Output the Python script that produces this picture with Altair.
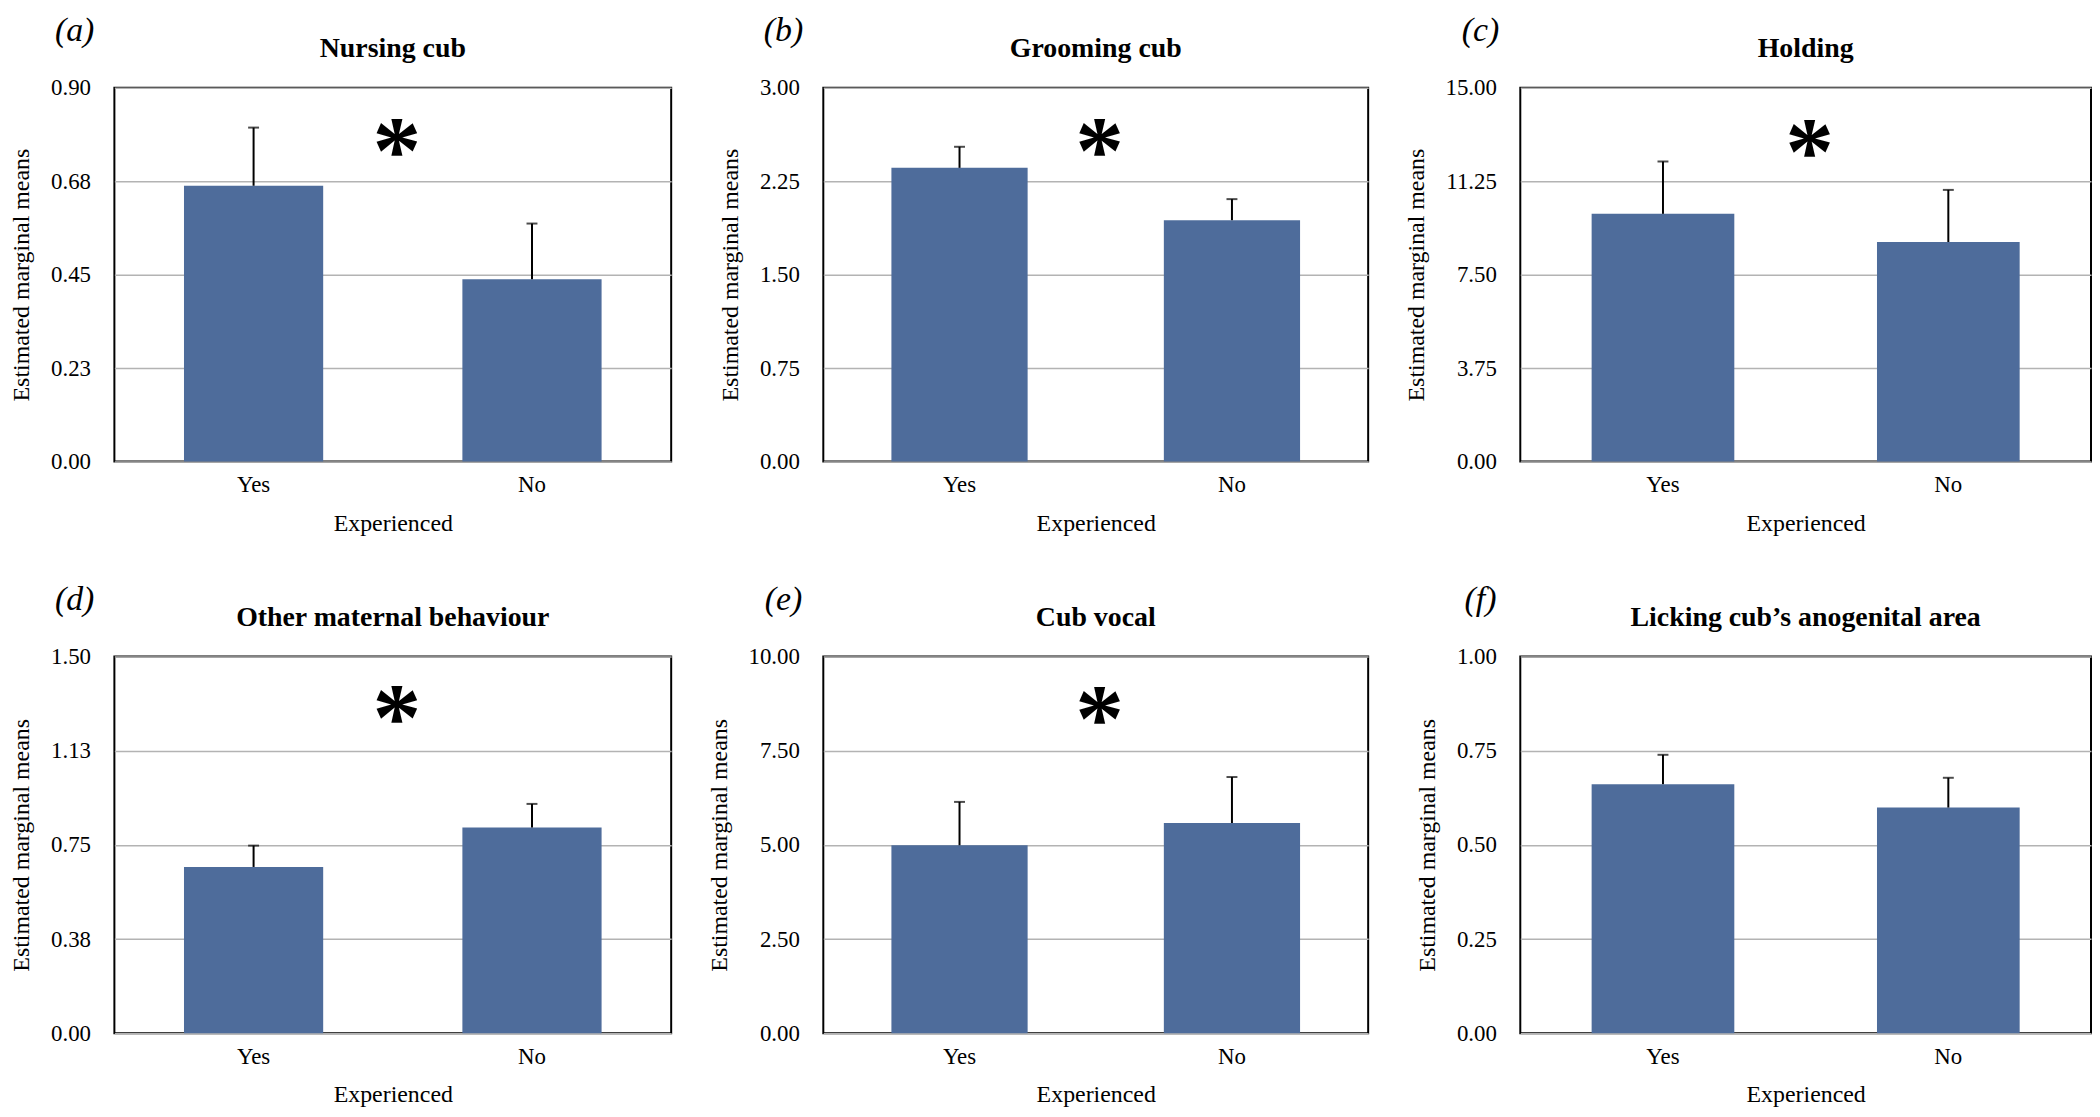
import altair as alt
import pandas as pd

letters = ["(a)", "(b)", "(c)", "(d)", "(e)", "(f)"]
titles = ["Nursing cub", "Grooming cub", "Holding",
          "Other maternal behaviour", "Cub vocal", "Licking cub\u2019s anogenital area"]
groups = ["Yes", "No"]
mean_yes = [0.664, 2.357, 9.94, 0.662, 4.99, 0.661]
mean_no = [0.439, 1.937, 8.81, 0.819, 5.58, 0.599]
upper_yes = [0.804, 2.526, 12.04, 0.747, 6.14, 0.739]
upper_no = [0.573, 2.106, 10.90, 0.913, 6.80, 0.678]
y_max = [0.9, 3.0, 15.0, 1.5, 10.0, 1.0]
y_ticks = [
    [0, 0.225, 0.45, 0.675, 0.9],
    [0, 0.75, 1.5, 2.25, 3.0],
    [0, 3.75, 7.5, 11.25, 15.0],
    [0, 0.375, 0.75, 1.125, 1.5],
    [0, 2.5, 5.0, 7.5, 10.0],
    [0, 0.25, 0.5, 0.75, 1.0],
]
star_y = [0.776, 2.59, 12.9, 1.30, 8.66, None]

widths = [560, 548, 574, 560, 548, 574]
heights = [376, 376, 376, 379, 379, 379]

FONT = "Liberation Serif"
BLUE = "#4E6C9B"


def panel(i):
    W = widths[i]
    H = heights[i]
    df = pd.DataFrame({
        "Experienced": groups,
        "mean": [mean_yes[i], mean_no[i]],
        "upper": [upper_yes[i], upper_no[i]],
    })
    xscale = alt.Scale(domain=groups, paddingInner=0.5, paddingOuter=0.25)
    yscale = alt.Scale(domain=[0, y_max[i]], nice=False, zero=True)
    x_axis = alt.Axis(title="Experienced", labelAngle=0, ticks=False, domain=False,
                      labelPadding=12, titlePadding=15, labelFontSize=23,
                      titleFontSize=24, labelFont=FONT, titleFont=FONT,
                      titleFontWeight="normal", labelColor="black", titleColor="black",
                      grid=False)
    y_axis = alt.Axis(title="Estimated marginal means", values=y_ticks[i], format=".2f",
                      grid=True, ticks=False, domain=False, labelPadding=24,
                      titlePadding=17, labelFontSize=23, titleFontSize=24,
                      labelFont=FONT, titleFont=FONT, titleFontWeight="normal",
                      labelColor="black", titleColor="black",
                      gridColor="#b3b3b3", gridWidth=1.5)
    X = alt.X("Experienced:N", scale=xscale, axis=x_axis)
    base = alt.Chart(df)
    bars = base.mark_bar(color=BLUE).encode(
        x=X,
        y=alt.Y("mean:Q", scale=yscale, axis=y_axis),
    )
    err = base.mark_rule(color="black", strokeWidth=2).encode(
        x=X,
        y=alt.Y("mean:Q", scale=yscale, axis=y_axis),
        y2="upper:Q",
    )
    cap = base.mark_tick(color="black", thickness=2, size=11).encode(
        x=X,
        y=alt.Y("upper:Q", scale=yscale, axis=y_axis),
    )
    lab_df = pd.DataFrame({"letter": [letters[i]], "title": [titles[i]]})
    letter = alt.Chart(lab_df).mark_text(
        font=FONT, fontSize=34, fontStyle="italic", baseline="middle", align="center",
        color="black").encode(
        x=alt.value(-40), y=alt.value(-57), text="letter:N")
    title = alt.Chart(lab_df).mark_text(
        font=FONT, fontSize=28, fontWeight="bold", baseline="alphabetic", align="center",
        color="black").encode(
        x=alt.value(W / 2), y=alt.value(-31), text="title:N")
    layers = [bars, err, cap, letter, title]
    if star_y[i] is not None:
        sdf = pd.DataFrame({"sig": ["*"], "pos": [star_y[i]]})
        star = alt.Chart(sdf).mark_text(
            font=FONT, fontSize=98, fontWeight="bold", baseline="middle", align="center",
            dy=15, color="black").encode(
            x=alt.value(W / 2 + 4),
            y=alt.Y("pos:Q", scale=yscale, axis=y_axis),
            text="sig:N")
        layers.append(star)
    return alt.layer(*layers).properties(width=W, height=H)


chart = alt.concat(
    *[panel(i) for i in range(6)],
    columns=3,
    spacing={"row": 196, "column": 153},
    bounds="flush",
    align="each",
).properties(
    padding={"left": 0, "top": 2, "right": 0, "bottom": 0}, background="white"
).configure_view(
    stroke="black", strokeWidth=2
)

chart.save("out.html", embed_options={"renderer": "svg", "actions": False})
